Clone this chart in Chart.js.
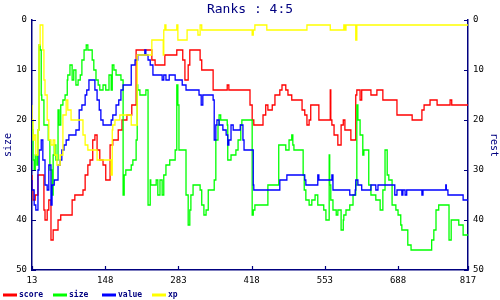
<!DOCTYPE html>
<html><head><meta charset="utf-8">
<script src="https://cdn.jsdelivr.net/npm/chart.js@4.4.0/dist/chart.umd.min.js"></script>
<style>html,body{margin:0;padding:0;background:#fff;}#wrap{width:500px;height:300px;}</style>
</head><body><div id="wrap"><canvas id="c" width="500" height="300"></canvas></div>
<script>
const titleText = 'Ranks : 4:5';
const leftTitle = 'size';
const rightTitle = 'rest';
const seriesNames = ['score', 'size', 'value', 'xp'];
const xTicks = [13, 148, 283, 418, 553, 688, 817];
const yTicks = [0, 10, 20, 30, 40, 50];

const scoreX = [13,15,19,24,28,35,37,41,44,48,52,55,61,66,70,87,92,107,111,116,120,125,129,133,138,144,149,157,162,172,179,188,197,205,208,227,234,240,258,264,280,284,291,295,301,304,323,326,347,352,373,376,378,397,415,419,422,439,444,448,456,461,470,474,481,485,492,511,516,520,524,527,542,550,563,564,566,570,577,583,587,590,594,601,610,612,618,621,638,649,660,686,714,732,736,741,747,760,784,787,797,798,817];
const scoreY = [31,34,36,35,31,31,38,40,38,36,44,42,42,40,39,39,36,35,34,31,29,28,24,23,26,28,29,32,25,24,22,20,19,17,6,6,6,8,9,7,7,6,6,8,12,9,6,8,10,14,14,13,14,14,14,17,20,21,19,17,18,17,15,14,13,14,15,16,18,19,21,20,17,20,20,14,20,21,23,25,21,20,22,22,24,15,14,16,14,15,14,16,19,20,18,17,17,16,17,16,17,17,17];

const sizeX = [13,15,17,19,22,24,26,28,30,31,35,39,43,46,50,52,54,57,61,63,66,70,74,78,79,83,87,90,94,98,102,105,109,113,116,120,124,127,131,135,138,144,149,155,159,161,164,168,172,177,181,183,186,190,196,199,205,207,208,212,216,220,223,227,231,232,236,242,245,249,253,256,260,264,267,271,277,280,282,284,290,297,301,304,306,310,315,323,326,330,334,338,343,349,352,356,358,361,367,373,374,376,380,385,389,393,398,400,404,411,415,419,421,424,430,444,448,454,463,468,472,481,487,492,494,496,500,513,515,518,524,529,535,540,546,551,555,561,562,564,568,574,577,583,587,588,592,599,605,610,612,614,618,620,623,625,629,634,638,642,647,655,660,664,668,671,677,684,688,693,695,699,703,706,712,716,750,754,758,763,771,782,786,788,795,800,808,811,817];
const sizeY = [20,22,28,30,27,29,22,5,6,15,16,21,21,24,30,35,27,25,28,18,21,17,16,15,12,11,9,12,10,13,12,11,8,6,5,6,6,8,10,12,13,14,13,14,11,14,9,10,11,11,12,35,31,30,30,29,28,24,13,14,15,15,15,14,37,32,33,33,32,35,32,35,31,29,29,28,28,26,13,17,26,26,35,41,38,35,33,33,34,37,39,38,34,34,32,24,21,19,20,20,21,28,28,27,27,26,24,21,20,20,20,20,39,38,37,37,37,33,33,33,25,25,26,24,23,25,26,26,31,34,36,37,36,35,37,37,38,40,27,33,36,38,39,38,42,40,39,38,37,35,33,17,20,23,23,27,26,26,33,35,35,36,38,34,26,31,32,37,38,39,41,42,42,42,45,46,46,44,42,38,37,37,44,40,40,40,41,43,43];

const valueX = [13,17,20,24,26,30,33,37,41,44,48,50,54,57,61,65,68,72,76,81,87,94,100,105,111,114,118,124,129,133,137,140,144,149,159,162,168,173,177,181,184,190,196,197,203,208,214,221,223,227,231,232,236,242,253,256,260,266,271,277,279,282,290,293,297,303,315,321,325,328,334,338,347,349,352,354,358,365,371,374,376,380,384,389,397,398,402,404,408,421,422,426,470,472,483,485,516,518,522,540,542,544,566,568,570,599,601,609,610,614,621,638,642,647,651,664,682,686,695,697,701,704,708,714,732,734,738,776,777,780,787,808,810,817];
const valueY = [32,34,37,38,30,26,24,28,33,34,29,37,33,32,32,29,28,26,25,24,23,23,22,18,17,15,14,12,12,14,16,18,20,21,21,20,19,17,16,14,13,13,13,9,9,8,7,7,6,7,8,9,9,11,11,12,11,12,11,11,12,12,12,13,13,14,14,14,15,17,15,15,15,16,24,21,20,21,22,23,25,24,21,22,22,21,21,24,26,26,33,34,34,32,32,31,31,32,33,33,31,32,32,31,34,34,35,35,34,32,33,34,33,33,34,33,33,35,34,35,34,35,34,34,34,35,34,34,33,34,35,35,36,36];

const xpX = [13,15,17,20,24,26,28,30,33,35,37,41,44,48,52,55,59,65,70,76,79,85,89,107,111,116,124,133,135,159,161,162,166,175,184,196,205,207,208,234,236,255,256,258,260,280,282,299,301,319,323,326,406,419,421,424,446,520,563,588,590,592,594,610,612,614,817];
const xpY = [17,20,24,23,27,22,5,1,1,6,12,15,20,24,25,24,27,29,27,19,16,18,20,20,23,25,26,26,28,28,31,22,21,20,19,19,21,21,7,7,4,4,7,2,1,2,1,4,2,2,3,1,2,2,3,2,1,2,1,2,1,2,1,1,4,1,1];

const colors = ['#ff0000', '#00ff00', '#0000ff', '#ffff00'];
const NAVY = '#000080';
const FONT = "'DejaVu Sans Mono', 'Liberation Mono', monospace";

function pts(xs, ys) { return xs.map((x, i) => ({ x: x, y: ys[i] })); }
const seriesData = [pts(scoreX, scoreY), pts(sizeX, sizeY), pts(valueX, valueY), pts(xpX, xpY)];

const datasets = seriesNames.map((n, i) => ({
  label: n,
  data: seriesData[i],
  borderColor: colors[i],
  backgroundColor: colors[i],
  borderWidth: 1.3,
  pointRadius: 0,
  fill: false,
  stepped: 'after',
  yAxisID: 'y',
  order: 4 - i
}));

const tickMarks = {
  id: 'tickMarks',
  afterDraw(chart) {
    const ctx = chart.ctx;
    const a = chart.chartArea;
    ctx.save();
    ctx.strokeStyle = NAVY;
    ctx.lineWidth = 1.2;
    ctx.beginPath();
    chart.scales.x.ticks.forEach(t => {
      const px = Math.round(chart.scales.x.getPixelForValue(t.value)) + 0.5;
      ctx.moveTo(px, a.bottom); ctx.lineTo(px, a.bottom - 4);
    });
    chart.scales.y.ticks.forEach(t => {
      const py = Math.round(chart.scales.y.getPixelForValue(t.value)) + 0.5;
      ctx.moveTo(a.left, py); ctx.lineTo(a.left + 4, py);
    });
    chart.scales.y2.ticks.forEach(t => {
      const py = Math.round(chart.scales.y2.getPixelForValue(t.value)) + 0.5;
      ctx.moveTo(a.right, py); ctx.lineTo(a.right - 4, py);
    });
    ctx.stroke();
    ctx.restore();
  }
};

const legendX = [3, 53, 102, 152];
const bottomLegend = {
  id: 'bottomLegend',
  afterDraw(chart) {
    const ctx = chart.ctx;
    const y = 295;
    ctx.save();
    ctx.font = 'bold 8px ' + FONT;
    ctx.textBaseline = 'middle';
    ctx.textAlign = 'left';
    chart.data.datasets.forEach((ds, i) => {
      const x = legendX[i];
      ctx.strokeStyle = ds.borderColor;
      ctx.lineWidth = 3;
      ctx.beginPath(); ctx.moveTo(x, y); ctx.lineTo(x + 14, y); ctx.stroke();
      ctx.fillStyle = NAVY;
      ctx.fillText(ds.label, x + 16, y);
    });
    ctx.restore();
  }
};

function yScale(pos, title, tpad) {
  return {
    type: 'linear', position: pos, min: 0, max: 50, reverse: true,
    afterBuildTicks: s => { s.ticks = yTicks.map(v => ({ value: v })); },
    afterFit: s => { s.width = 32; },
    grid: { drawOnChartArea: false, drawTicks: false },
    border: { color: NAVY, width: 1.5 },
    ticks: { color: '#000', font: { family: FONT, size: 9 }, padding: 5, callback: v => String(v) },
    title: { display: true, text: title, color: NAVY, font: { family: FONT, size: 10 }, padding: { top: tpad, bottom: 0 } }
  };
}

new Chart(document.getElementById('c'), {
  type: 'line',
  data: { datasets: datasets },
  options: {
    responsive: false, animation: false, devicePixelRatio: 1,
    layout: { padding: 0 },
    plugins: {
      legend: { display: false },
      tooltip: { enabled: false },
      title: { display: true, text: titleText, color: NAVY, font: { family: FONT, size: 13, weight: 'normal' }, padding: { top: 2, bottom: 2.4 } }
    },
    scales: {
      x: {
        type: 'linear', min: 13, max: 817,
        afterBuildTicks: s => { s.ticks = xTicks.map(v => ({ value: v })); },
        afterFit: s => { s.height = 30; },
        grid: { drawOnChartArea: false, drawTicks: false },
        border: { color: NAVY, width: 1.5 },
        ticks: { color: '#000', font: { family: FONT, size: 9 }, padding: 5, maxRotation: 0, autoSkip: false, callback: v => String(v) }
      },
      y: yScale('left', leftTitle, 2.5),
      y2: yScale('right', rightTitle, 0)
    }
  },
  plugins: [tickMarks, bottomLegend]
});
</script></body></html>
